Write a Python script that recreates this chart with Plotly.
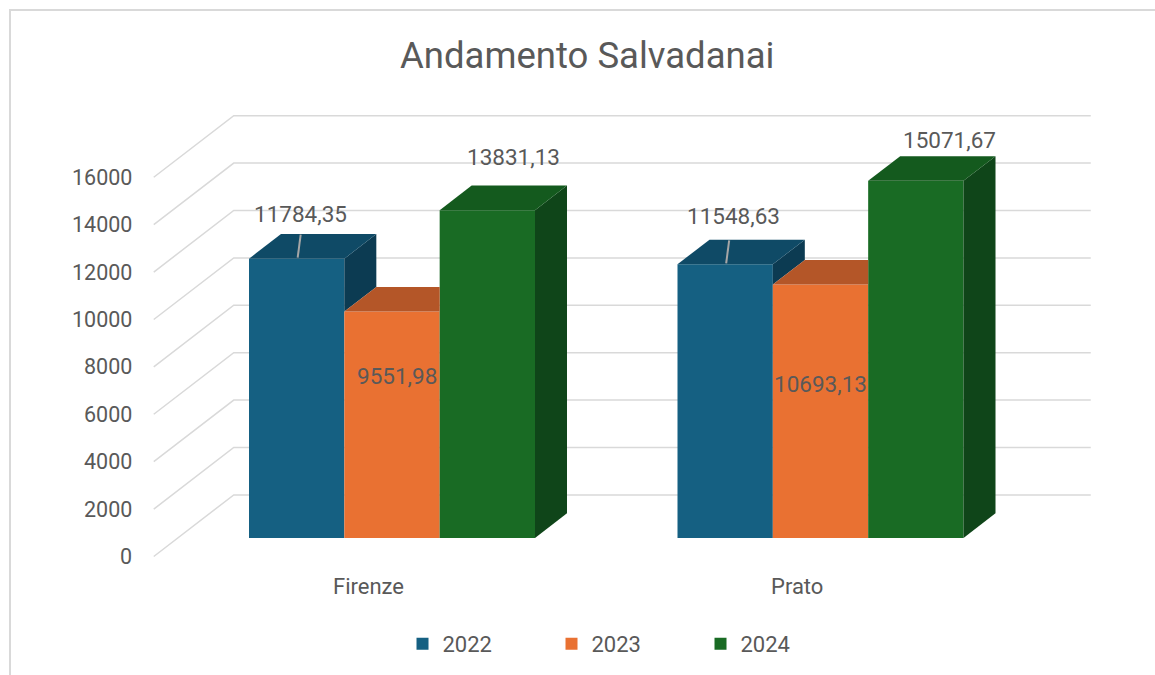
import plotly.graph_objects as go

# ---------------- data ----------------
categories = ["Firenze", "Prato"]
years = ["2022", "2023", "2024"]
values_2022 = [11784.35, 11548.63]
values_2023 = [9551.98, 10693.13]
values_2024 = [13831.13, 15071.67]
tick_values = [0, 2000, 4000, 6000, 8000, 10000, 12000, 14000, 16000]
title_text = "Andamento Salvadanai"

series = [values_2022, values_2023, values_2024]

# ---------------- style ----------------
W, H = 1155, 675
FRONT = ["#156082", "#E97132", "#196B24"]
TOP = ["#0f4a66", "#b45628", "#145a1e"]
SIDE = ["#0c3b52", "#9a4a22", "#0f4519"]
TXT = "#595959"
GRID = "#d9d9d9"
FONT = "Roboto"

PX_PER_CAT = 428.5            # pixels per category unit
VAL_PER_PX = 2000 / 47.4      # value units per pixel
X0_PX = 392                   # pixel of category 0
Y0_PX = 538                   # pixel of value 0 on bar front plane
BARGAP = 1 - 286 / PX_PER_CAT
BW = (1 - BARGAP) / 3
SLOPE = 0.77
BAR_DEPTH = 32
FLOOR_FRONT = -24
FLOOR_BACK = 56

xr = [(0 - X0_PX) / PX_PER_CAT, (W - X0_PX) / PX_PER_CAT]
yr = [(Y0_PX - H) * VAL_PER_PX, Y0_PX * VAL_PER_PX]


def proj(x, v, d):
    """oblique projection: depth d in px -> shifted x (cat units), v (value units)"""
    return x + d / PX_PER_CAT, v + d * SLOPE * VAL_PER_PX


fig = go.Figure()

# front faces as bars
for i, yr_name in enumerate(years):
    fig.add_trace(go.Bar(
        x=[0, 1], y=series[i], name=yr_name, marker_color=FRONT[i],
        marker_line_width=0, hoverinfo="skip"))

# top and side faces
for c in range(len(categories)):
    for i in range(3):
        v = series[i][c]
        xl = c + (i - 1.5) * BW
        xrt = xl + BW
        nxt = series[i + 1][c] if i < 2 else None
        # side face
        if nxt is None or nxt < v:
            base = 0 if nxt is None else nxt
            pts = [(xrt, base, 0), (xrt, v, 0), (xrt, v, BAR_DEPTH), (xrt, base, BAR_DEPTH)]
            px = [proj(*p) for p in pts]
            fig.add_trace(go.Scatter(
                x=[p[0] for p in px] + [px[0][0]], y=[p[1] for p in px] + [px[0][1]],
                fill="toself", fillcolor=SIDE[i], mode="lines", line=dict(width=0),
                showlegend=False, hoverinfo="skip"))
        # top face
        if nxt is not None and nxt > v:
            pts = [(xl, v, 0), (xrt, v, 0), (xrt - BAR_DEPTH / PX_PER_CAT, v, BAR_DEPTH), (xl, v, BAR_DEPTH)]
        else:
            pts = [(xl, v, 0), (xrt, v, 0), (xrt, v, BAR_DEPTH), (xl, v, BAR_DEPTH)]
        px = [proj(*p) for p in pts]
        fig.add_trace(go.Scatter(
            x=[p[0] for p in px] + [px[0][0]], y=[p[1] for p in px] + [px[0][1]],
            fill="toself", fillcolor=TOP[i], mode="lines", line=dict(width=0),
            showlegend=False, hoverinfo="skip"))

shapes = []
annotations = []

# gridlines (side wall + back wall) and tick labels
for t in tick_values:
    fx, fy = proj(-0.5, t, FLOOR_FRONT)
    bx, by = proj(-0.5, t, FLOOR_BACK)
    ex, ey = proj(1.5, t, FLOOR_BACK)
    shapes.append(dict(type="path", path=f"M {fx},{fy} L {bx},{by} L {ex},{ey}",
                       line=dict(color=GRID, width=1.5), layer="below"))
    annotations.append(dict(x=fx, y=fy, text=str(t), showarrow=False, xanchor="right",
                            yanchor="middle", xshift=-20, font=dict(size=21.5, color=TXT, family=FONT)))

# category labels
for c, name in enumerate(categories):
    fx, fy = proj(c, 0, FLOOR_FRONT)
    annotations.append(dict(x=fx, y=fy, text=name, showarrow=False, xanchor="center",
                            yanchor="middle", yshift=-30, font=dict(size=22, color=TXT, family=FONT)))

# data labels
label_offsets = [  # (dx px, dy px) relative to bar top-front center
    [(4, -45), (8, -48)],
    [(5, 64), (0, 99)],
    [(26, -53), (34, -41)],
]
leader = [[True, True], [False, False], [False, False]]
for i in range(3):
    for c in range(2):
        v = series[i][c]
        xc = c + (i - 1) * BW
        dxp, dyp = label_offsets[i][c]
        txt = f"{v:.2f}".replace(".", ",")
        annotations.append(dict(x=xc + dxp / PX_PER_CAT, y=v - dyp * VAL_PER_PX, text=txt,
                                showarrow=False, xanchor="center", yanchor="middle",
                                font=dict(size=22.5, color=TXT, family=FONT)))
        if leader[i][c]:
            shapes.append(dict(type="line", x0=xc + 1 / PX_PER_CAT, y0=v + 1 * VAL_PER_PX,
                               x1=xc + 4 / PX_PER_CAT, y1=v + 24 * VAL_PER_PX,
                               line=dict(color="#a6a6a6", width=2), layer="above"))

# title
annotations.append(dict(x=587 / W, y=1 - 55 / H, xref="paper", yref="paper", text=title_text,
                        showarrow=False, xanchor="center", yanchor="middle",
                        font=dict(size=36.5, color=TXT, family=FONT)))

# outer border
shapes.append(dict(type="rect", xref="paper", yref="paper", x0=10 / W, y0=-0.02, x1=1.02,
                   y1=1 - 10 / H, line=dict(color=GRID, width=2), layer="below"))

fig.update_layout(
    width=W, height=H, margin=dict(l=0, r=0, t=0, b=0),
    paper_bgcolor="white", plot_bgcolor="white",
    barmode="group", bargap=BARGAP, bargroupgap=0,
    xaxis=dict(range=xr, visible=False, fixedrange=True),
    yaxis=dict(range=yr, visible=False, fixedrange=True),
    shapes=shapes, annotations=annotations,
    legend=dict(orientation="h", x=0.542, xanchor="center", y=1 - 644 / H, yanchor="middle",
                font=dict(size=22, color=TXT, family=FONT), entrywidth=104,
                entrywidthmode="pixels", traceorder="normal", bgcolor="rgba(0,0,0,0)"),
    font=dict(family=FONT, color=TXT),
)

fig.write_html("out.html")
